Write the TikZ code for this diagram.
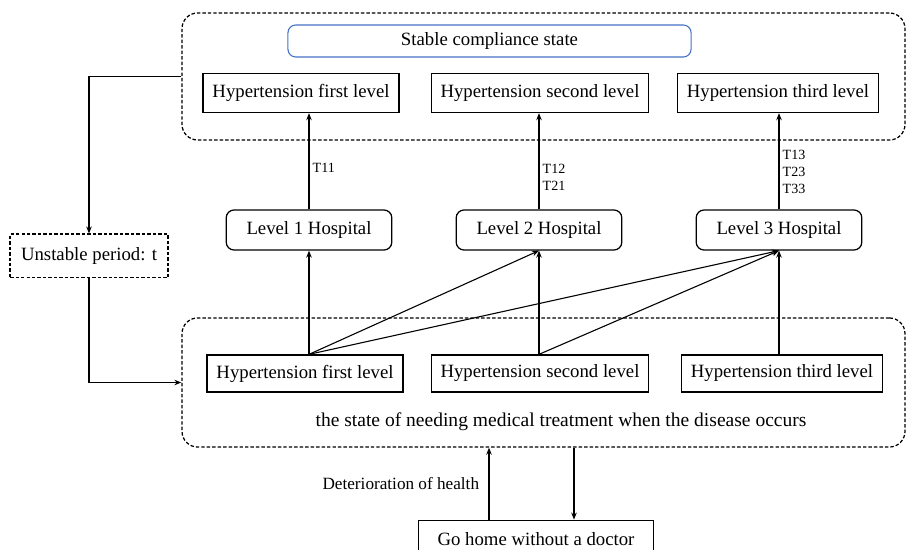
\documentclass[tikz,border=0pt]{standalone}
\usepackage{fontspec}
\setmainfont{Liberation Serif}
\usetikzlibrary{arrows.meta, positioning, calc}
\definecolor{stateblue}{RGB}{68,114,196}

\begin{document}
\begin{tikzpicture}[
    x=0.64pt, y=0.64pt,
    font=\fontsize{12}{14}\selectfont,
    region/.style={draw, dash pattern=on 2.2pt off 1.3pt, rounded corners=10pt, line width=0.8pt, inner sep=0pt, minimum width=462.7pt},
    levelbox/.style={draw, line width=0.8pt, inner xsep=6pt, minimum height=25pt},
    hosp/.style={draw, line width=0.8pt, rounded corners=5pt, inner xsep=13pt, minimum height=25.6pt},
    arr/.style={-{Stealth[length=4.5pt,width=3.5pt]}, line width=0.7pt},
    tlab/.style={anchor=west, align=left, font=\fontsize{9}{11}\selectfont, inner sep=2pt},
]
    \useasboundingbox (0,0) rectangle (907,-550);

    % dashed regions
    \node[region, minimum height=81.3pt] (steady) at (543.5,-76.5) {};
    \node[region, minimum height=82.6pt] (onset) at (543.5,-382.5) {};

    \node[draw=stateblue, rounded corners=5pt, line width=0.7pt, minimum width=258pt, minimum height=20.5pt] (target) at (489.5,-41) {Stable compliance state};

    \node[levelbox] (top1) at (301,-93) {Hypertension first level};
    \node[levelbox] (top2) at (540,-93) {Hypertension second level};
    \node[levelbox] (top3) at (778,-93) {Hypertension third level};

    \node[hosp] (hosp1) at (309,-230) {Level 1 Hospital};
    \node[hosp] (hosp2) at (539,-230) {Level 2 Hospital};
    \node[hosp] (hosp3) at (779,-230) {Level 3 Hospital};

    \node[levelbox, minimum height=23.7pt] (low1) at (305,-373.5) {Hypertension first level};
    \node[levelbox, minimum height=23.7pt] (low2) at (540,-373.5) {Hypertension second level};
    \node[levelbox, minimum height=23.7pt] (low3) at (782,-373.5) {Hypertension third level};

    \node[font=\fontsize{12.5}{14}\selectfont] (onsettext) at (561,-422) {the state of needing medical treatment when the disease occurs};

    \node[draw, dash pattern=on 2.2pt off 1.3pt, line width=0.8pt, minimum width=101pt, minimum height=28pt] (unstable) at (89,-256) {Unstable period: t};

    \node[levelbox, minimum width=150pt, minimum height=24pt] (home) at (536,-539) {Go home without a doctor};

    % hospital to steady state
    \draw[arr] (hosp1.north) -- node[tlab, pos=0.43] {T11} (hosp1.north |- top1.south);
    \draw[arr] (hosp2.north) -- node[tlab, pos=0.335] {T12\\T21} (hosp2.north |- top2.south);
    \draw[arr] (hosp3.north) -- node[tlab, pos=0.39] {T13\\T23\\T33} (hosp3.north |- top3.south);

    % onset to hospital
    \coordinate (from1) at (hosp1.south |- low1.north);
    \coordinate (from2) at (hosp2.south |- low2.north);
    \coordinate (from3) at (hosp3.south |- low3.north);
    \draw[arr] (from1) -- (hosp1.south);
    \draw[arr] (from1) -- (hosp2.south);
    \draw[arr] (from1) -- (hosp3.south);
    \draw[arr] (from2) -- (hosp2.south);
    \draw[arr] (from2) -- (hosp3.south);
    \draw[arr] (from3) -- (hosp3.south);

    % unstable loop
    \draw[arr] (steady.west) -| (unstable.north);
    \draw[arr] (unstable.south) |- (onset.west);

    % home
    \coordinate (up) at ($(home.north)+(-47,0)$);
    \coordinate (down) at ($(home.north)+(38,0)$);
    \draw[arr] (up) -- node[left, font=\fontsize{11}{12}\selectfont, inner sep=6pt] {Deterioration of health} (up |- onset.south);
    \draw[arr] (down |- onset.south) -- (down);
\end{tikzpicture}
\end{document}
